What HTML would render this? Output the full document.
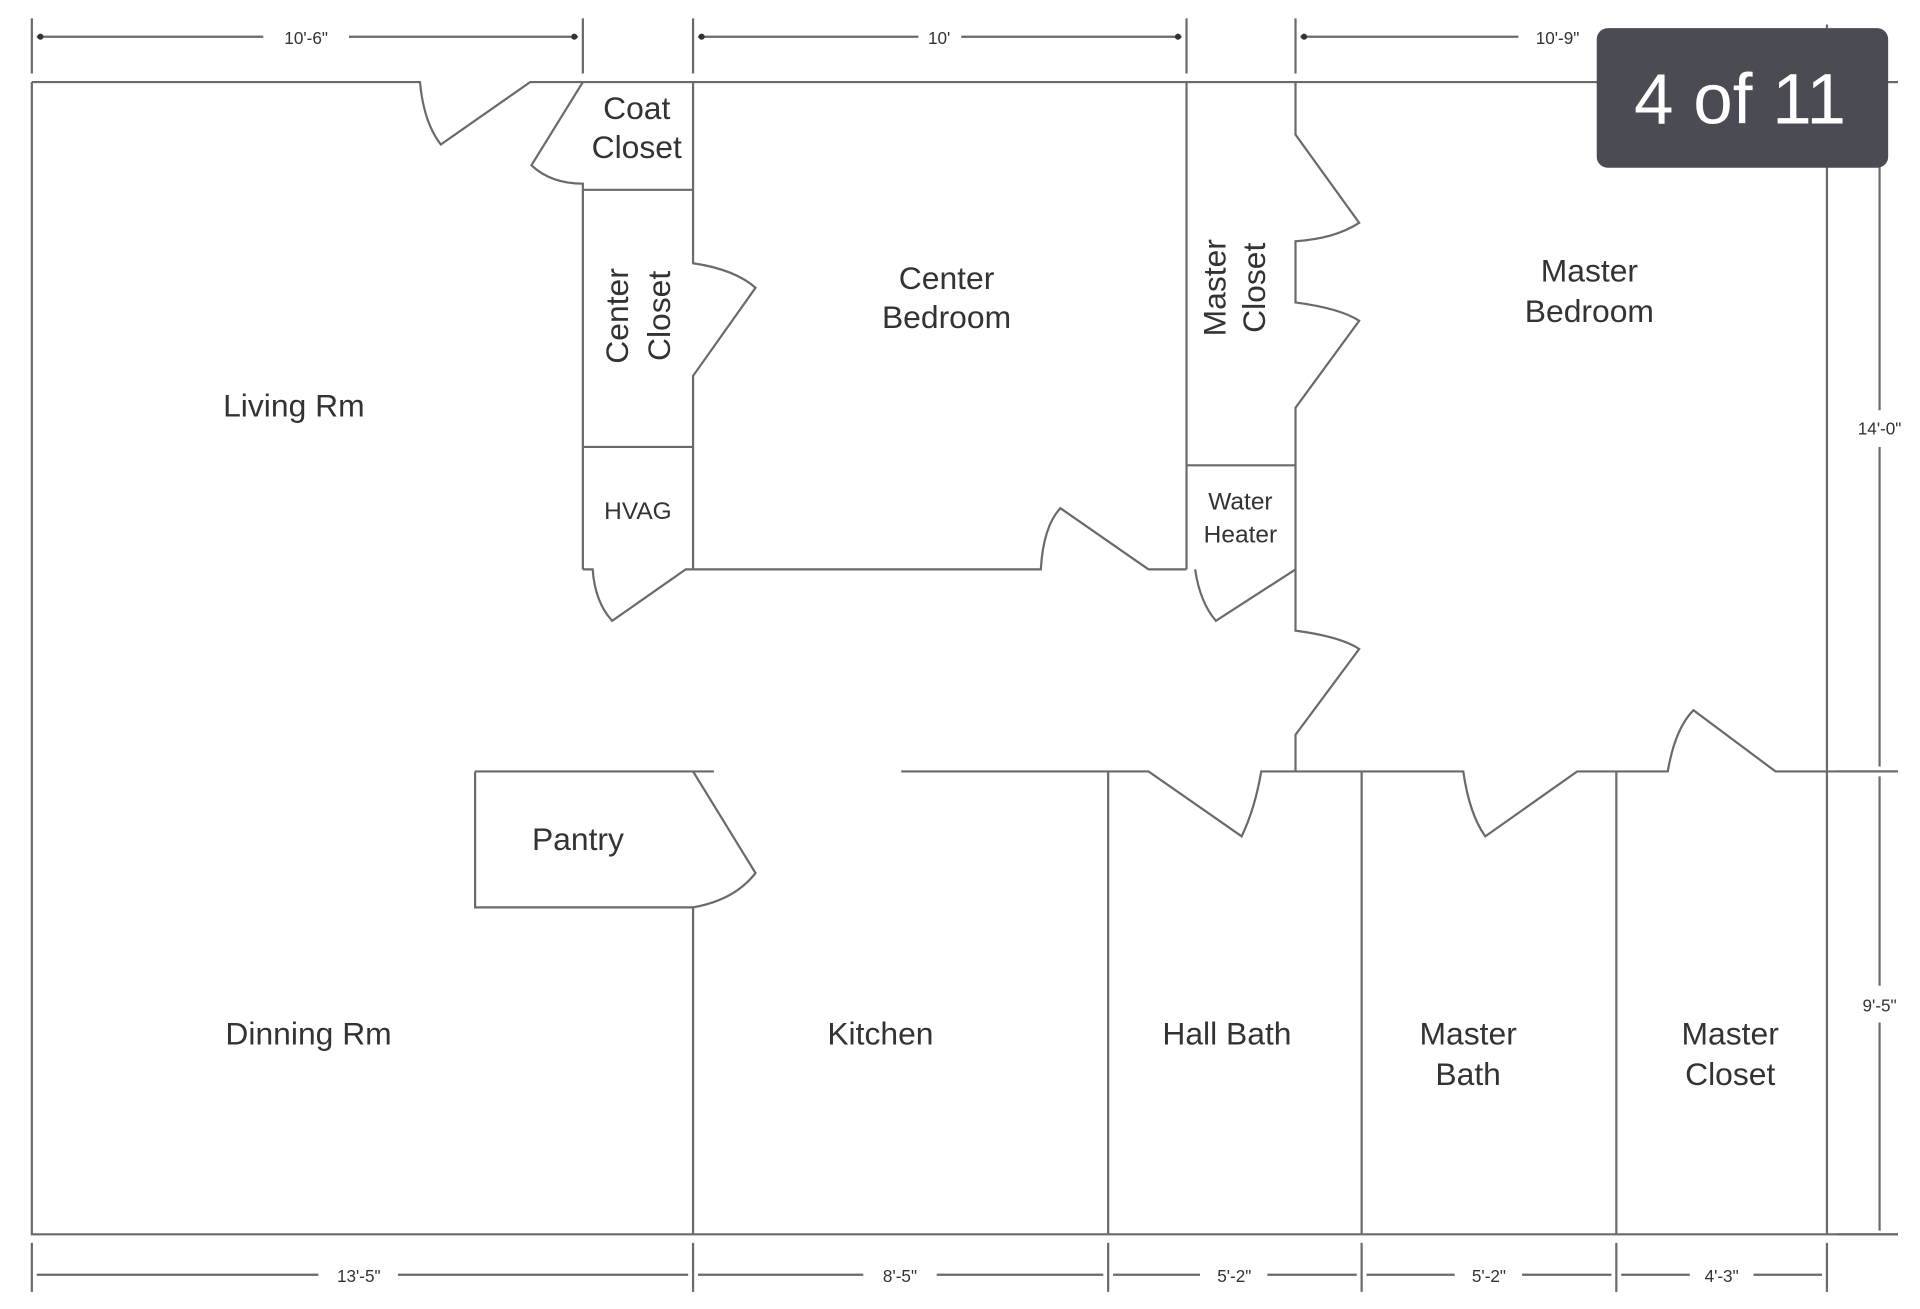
<!DOCTYPE html>
<html><head><meta charset="utf-8"><style>html,body{margin:0;padding:0;background:#fff}svg{display:block}</style></head>
<body>
<svg width="1920" height="1309" viewBox="0 0 1568 1069" preserveAspectRatio="none" xmlns="http://www.w3.org/2000/svg">
<rect width="1568" height="1069" fill="#fff"/>
<g stroke="#6a6a6a" stroke-width="1.8" fill="none">
<!-- top wall -->
<path d="M26 67 H343 Q346 100 360 118 L433 67 H1550"/>
<path d="M26 67 V1008 H1550"/>
<path d="M1492 20 V1008"/>
<!-- coat closet -->
<path d="M476 67 L434 135 Q450 150 476 150 V465"/>
<path d="M476 155 H566"/>
<path d="M566 67 V215 Q600 220 617 235 L566 307 V465"/>
<path d="M476 365 H566"/>
<path d="M476 465 H484 Q486 492 500 507 L560 465 H850 Q852 430 866 415 L938 465 H969"/>
<path d="M969 67 V465"/>
<path d="M969 380 H1058"/>
<path d="M976 465 Q980 492 993 507 L1058 465"/>
<path d="M1058 67 V110 L1110 182 Q1090 195 1058 197 V247 Q1095 252 1110 262 L1058 333 V515 Q1095 520 1110 530 L1058 600 V630"/>
<!-- middle wall -->
<path d="M388 630 H583"/>
<path d="M736 630 H938 L1014 683 Q1025 660 1030 630 H1195 Q1200 665 1213 683 L1288 630 H1362 Q1368 595 1383 580 L1450 630 H1550"/>
<path d="M388 630 V741 H566 Q600 735 617 713 L566 630"/>
<path d="M566 741 V1008"/>
<path d="M905 630 V1008 M1112 630 V1008 M1320 630 V1008"/>
<!-- dims -->
<path d="M26 15 V60 M476 15 V60 M566 15 V60 M969 15 V60 M1058 15 V60"/>
<path d="M30 30 H215 M285 30 H472 M570 30 H750 M785 30 H965 M1062 30 H1240 M1305 30 H1488"/>
<path d="M1500 67 H1550 M1500 630 H1550 M1500 1008 H1550"/>
<path d="M1535 70 V335 M1535 365 V626 M1535 634 V805 M1535 835 V1005"/>
<path d="M26 1015 V1055 M566 1015 V1055 M905 1015 V1055 M1112 1015 V1055 M1320 1015 V1055 M1492 1015 V1055"/>
<path d="M30 1041 H260 M325 1041 H562 M570 1041 H705 M765 1041 H901 M909 1041 H980 M1035 1041 H1108 M1116 1041 H1188 M1243 1041 H1316 M1324 1041 H1380 M1432 1041 H1488"/>
</g>
<g fill="#333">
<circle cx="33" cy="30" r="2.5"/><circle cx="469" cy="30" r="2.5"/><circle cx="573" cy="30" r="2.5"/><circle cx="962" cy="30" r="2.5"/><circle cx="1065" cy="30" r="2.5"/>
</g>
<g font-family="Liberation Sans, sans-serif" fill="#333" text-anchor="middle">
<g font-size="14"><text x="250" y="36">10'-6"</text><text x="767" y="36">10'</text><text x="1272" y="36">10'-9"</text>
<text x="293" y="1047">13'-5"</text><text x="735" y="1047">8'-5"</text><text x="1008" y="1047">5'-2"</text><text x="1216" y="1047">5'-2"</text><text x="1406" y="1047">4'-3"</text>
<text x="1535" y="355">14'-0"</text><text x="1535" y="826">9'-5"</text></g>
<g font-size="26">
<text x="520" y="97">Coat</text><text x="520" y="129">Closet</text>
<text x="240" y="340">Living Rm</text>
<text x="773" y="236">Center</text><text x="773" y="268">Bedroom</text>
<text x="1298" y="230">Master</text><text x="1298" y="263">Bedroom</text>
<text x="472" y="694">Pantry</text>
<text x="252" y="853">Dinning Rm</text>
<text x="719" y="853">Kitchen</text>
<text x="1002" y="853">Hall Bath</text>
<text x="1199" y="853">Master</text><text x="1199" y="886">Bath</text>
<text x="1413" y="853">Master</text><text x="1413" y="886">Closet</text>
<text transform="translate(513 258) rotate(-90)">Center</text>
<text transform="translate(547 258) rotate(-90)">Closet</text>
<text transform="translate(1001 235) rotate(-90)">Master</text>
<text transform="translate(1033 235) rotate(-90)">Closet</text>
</g>
<text x="521" y="424" font-size="20">HVAG</text>
<text x="1013" y="416" font-size="20">Water</text><text x="1013" y="443" font-size="20">Heater</text>
</g>
<rect x="1304" y="23" width="238" height="114" rx="9" fill="#4b4c53"/>
<text x="1421" y="101" font-family="Liberation Sans, sans-serif" font-size="58" fill="#fff" text-anchor="middle">4 of 11</text>
</svg>
</body></html>
